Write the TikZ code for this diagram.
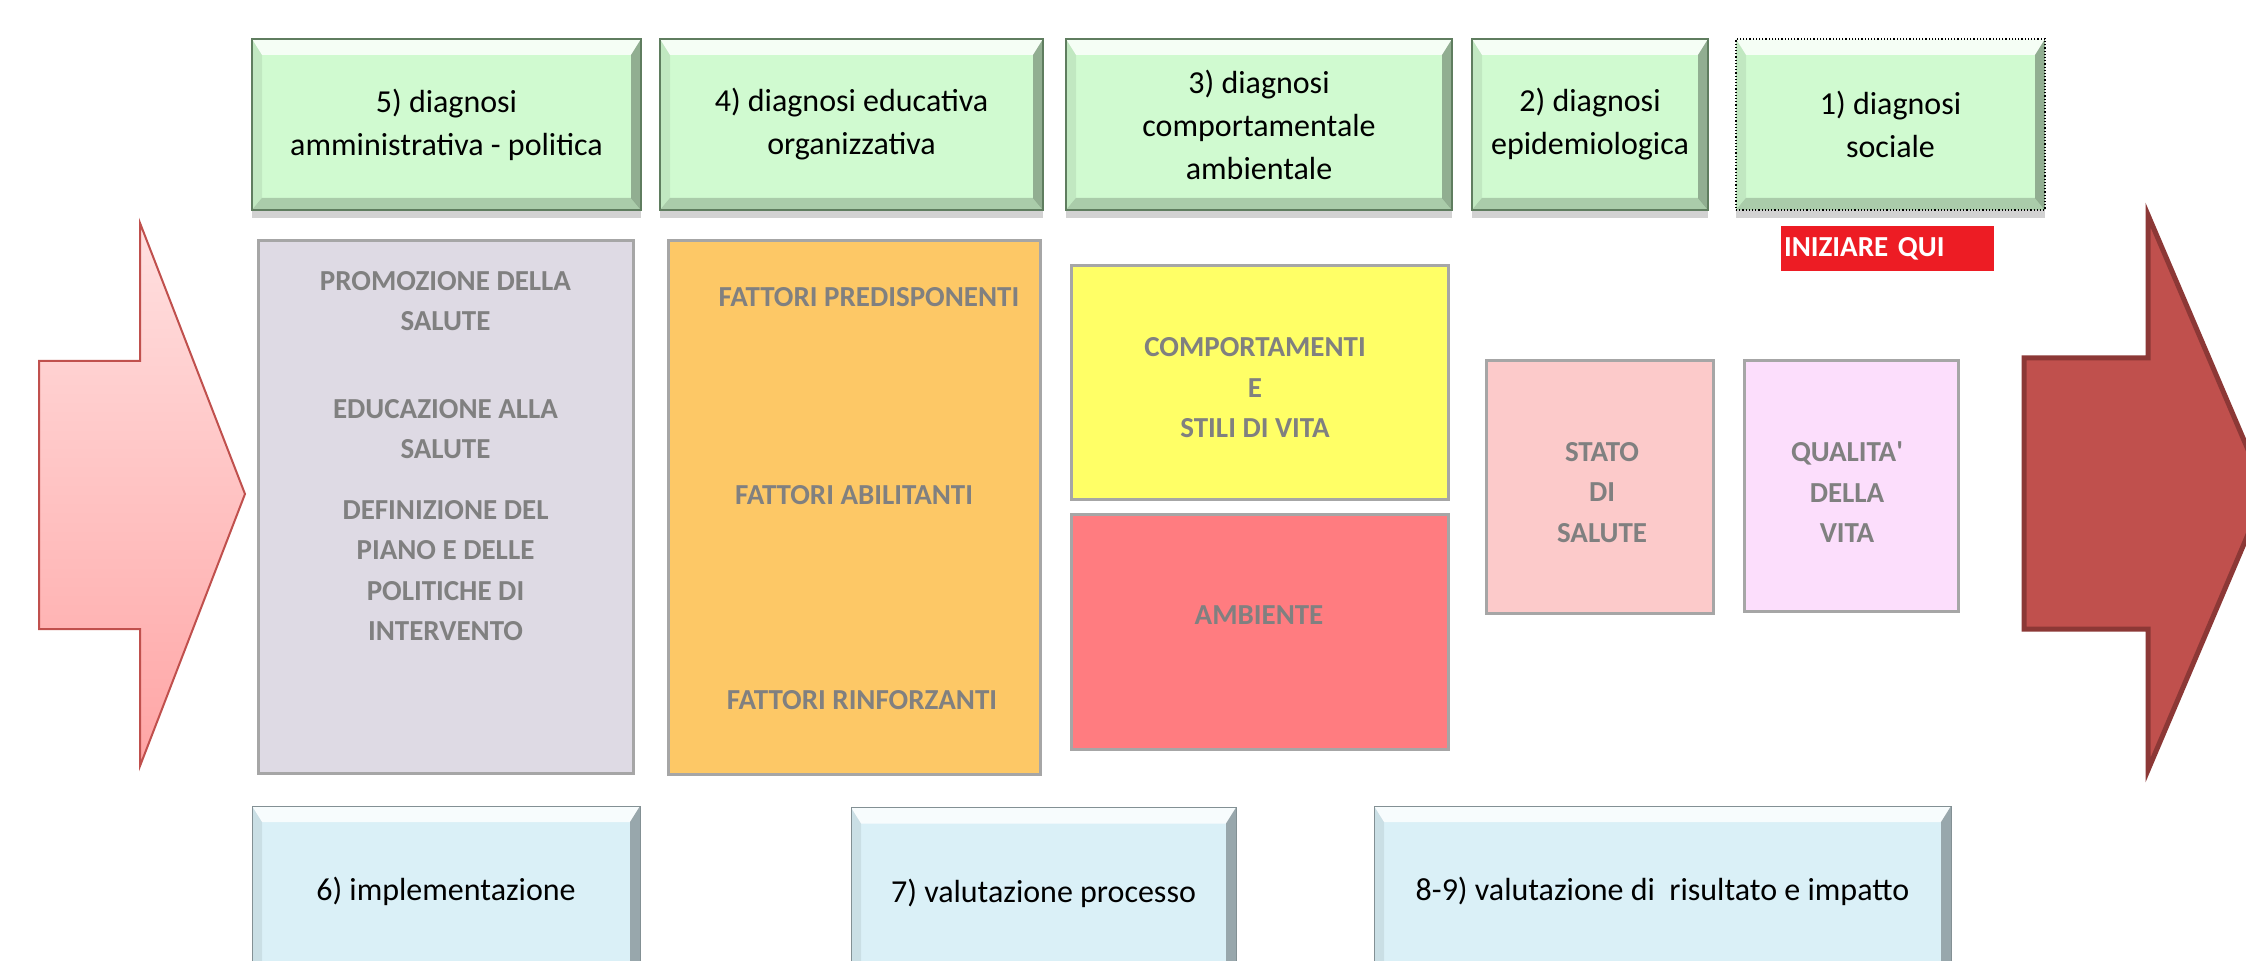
\documentclass[tikz,border=0pt]{standalone}
\usepackage{fontspec}
\setmainfont{Carlito}
\usepackage{tikz}
\usetikzlibrary{calc}
\usetikzlibrary{shadows}
\newdimen\pix
\pix=0.5pt
\definecolor{diagfill}{RGB}{208,250,208}
\definecolor{diagedge}{RGB}{95,125,95}
\definecolor{evalfill}{RGB}{218,240,247}
\definecolor{lavfill}{RGB}{222,218,228}
\definecolor{orgfill}{RGB}{253,200,102}
\definecolor{yelfill}{RGB}{255,255,102}
\definecolor{ambfill}{RGB}{255,124,128}
\definecolor{statfill}{RGB}{252,202,202}
\definecolor{qualfill}{RGB}{252,222,252}
\definecolor{startred}{RGB}{237,28,36}
\definecolor{arrowred}{RGB}{192,80,77}
\definecolor{arrowdark}{RGB}{140,56,54}
\definecolor{arrowtop}{RGB}{255,224,224}
\definecolor{arrowbot}{RGB}{255,165,165}
\definecolor{labgray}{RGB}{128,128,128}
\tikzset{
	bevel/.style={path picture={
		\coordinate (nw) at (path picture bounding box.north west);
		\coordinate (ne) at (path picture bounding box.north east);
		\coordinate (se) at (path picture bounding box.south east);
		\coordinate (sw) at (path picture bounding box.south west);
		\fill[white,opacity=.8] (nw) -- (ne) -- ($(ne)+(-5pt,-8pt)$) -- ($(nw)+(5pt,-8pt)$) -- cycle;
		\fill[black,opacity=.3] (ne) -- (se) -- ($(se)+(-5pt,6pt)$) -- ($(ne)+(-5pt,-8pt)$) -- cycle;
		\fill[black,opacity=.18] (sw) -- (se) -- ($(se)+(-5pt,6pt)$) -- ($(sw)+(5pt,6pt)$) -- cycle;
		\fill[black,opacity=.07] (nw) -- (sw) -- ($(sw)+(5pt,6pt)$) -- ($(nw)+(5pt,-8pt)$) -- cycle;
	}},
	diag/.style={draw=diagedge, line width=.6pt, fill=diagfill, bevel, inner sep=0pt,
		minimum height=171\pix, align=center, font=\fontsize{16}{21.5}\selectfont,
		drop shadow={shadow xshift=0pt, shadow yshift=-4pt, opacity=.35}},
	evalbox/.style={draw=evalfill!60!black, line width=.4pt, fill=evalfill, bevel, inner sep=0pt,
		minimum height=171\pix, align=center, font=\fontsize{16}{21.5}\selectfont},
	panel/.style={draw=black!35, line width=1.5pt, inner sep=0pt},
	graytxt/.style={text=labgray, font=\fontsize{14.5}{20.25}\selectfont\bfseries, align=center, inner sep=0pt},
}

\begin{document}
\begin{tikzpicture}[x=0.5pt, y=-0.5pt]
	\useasboundingbox (0,0) rectangle (2246,961);
	\fill[white] (0,0) rectangle (2246,961);
	\clip (0,0) rectangle (2246,961);

	% diagnosi
	\node[diag, minimum width=389\pix] (d5) at (446.5,124.5) {5) diagnosi\\amministrativa - politica};
	\node[diag, minimum width=383\pix] (d4) at (851.5,124.5) {4) diagnosi educativa\\organizzativa};
	\node[diag, minimum width=386\pix] (d3) at (1259,124.5) {3) diagnosi\\comportamentale\\ambientale};
	\node[diag, minimum width=236\pix] (d2) at (1590,124.5) {2) diagnosi\\epidemiologica};
	\node[diag, minimum width=309\pix, draw=black, densely dotted, line width=1pt] (d1) at (1890.5,124.5) {1) diagnosi\\sociale};

	\node[fill=startred, text=white, font=\fontsize{14.5}{17}\selectfont\bfseries, inner xsep=1.5pt, inner ysep=0pt,
		text width=207\pix, minimum height=45\pix, align=left] (start) at (1887.5,248.5) {INIZIARE QUI};

	% colonne
	\node[panel, fill=lavfill, minimum width=375\pix, minimum height=532\pix] (lav) at (445.5,507) {};
	\node[graytxt] (lavtxt) at (445.5,456) {PROMOZIONE DELLA\\SALUTE\\[47\pix]EDUCAZIONE ALLA\\SALUTE\\[20\pix]DEFINIZIONE DEL\\PIANO E DELLE\\POLITICHE DI\\INTERVENTO};

	\node[panel, fill=orgfill, minimum width=372\pix, minimum height=533\pix] (org) at (854,507.5) {};
	\node[graytxt] (fpre) at (869,297) {FATTORI PREDISPONENTI};
	\node[graytxt] (fabi) at (854,495) {FATTORI ABILITANTI};
	\node[graytxt] (frin) at (862,700) {FATTORI RINFORZANTI};

	\node[panel, fill=yelfill, minimum width=377\pix, minimum height=234\pix] (beh) at (1259.5,383) {};
	\node[graytxt] (behtxt) at (1255,388) {COMPORTAMENTI\\E\\STILI DI VITA};

	\node[panel, fill=ambfill, minimum width=377\pix, minimum height=234\pix] (amb) at (1259.5,632) {};
	\node[graytxt] (ambtxt) at (1259,615) {AMBIENTE};

	\node[panel, fill=statfill, minimum width=227\pix, minimum height=252\pix] (stato) at (1599.5,487) {};
	\node[graytxt] (statotxt) at (1602,492.5) {STATO\\DI\\SALUTE};

	\node[panel, fill=qualfill, minimum width=214\pix, minimum height=250\pix] (qual) at (1851,486) {};
	\node[graytxt] (qualtxt) at (1847,492.5) {QUALITA\textquotesingle\\DELLA\\VITA};

	% valutazione
	\node[evalbox, minimum width=388\pix] (impl) at (446,891.5) {6) implementazione};
	\node[evalbox, minimum width=385\pix] (proc) at (1043.5,893) {7) valutazione processo};
	\node[evalbox, minimum width=577\pix] (esito) at (1662.5,891.5) {8-9) valutazione di~ risultato e impatto};

	% frecce
	\shade[top color=arrowtop, bottom color=arrowbot, draw=arrowred, line width=1pt]
		(39,361) -- (140,361) -- (140,223) -- (245,494) -- (140,766) -- (140,629) -- (39,629) -- cycle;
	\filldraw[fill=arrowred, draw=arrowdark, line width=2.5pt]
		(2024,358) -- (2148,358) -- (2148,215) -- (2266,492) -- (2148,770) -- (2148,629) -- (2024,629) -- cycle;
\end{tikzpicture}
\end{document}
